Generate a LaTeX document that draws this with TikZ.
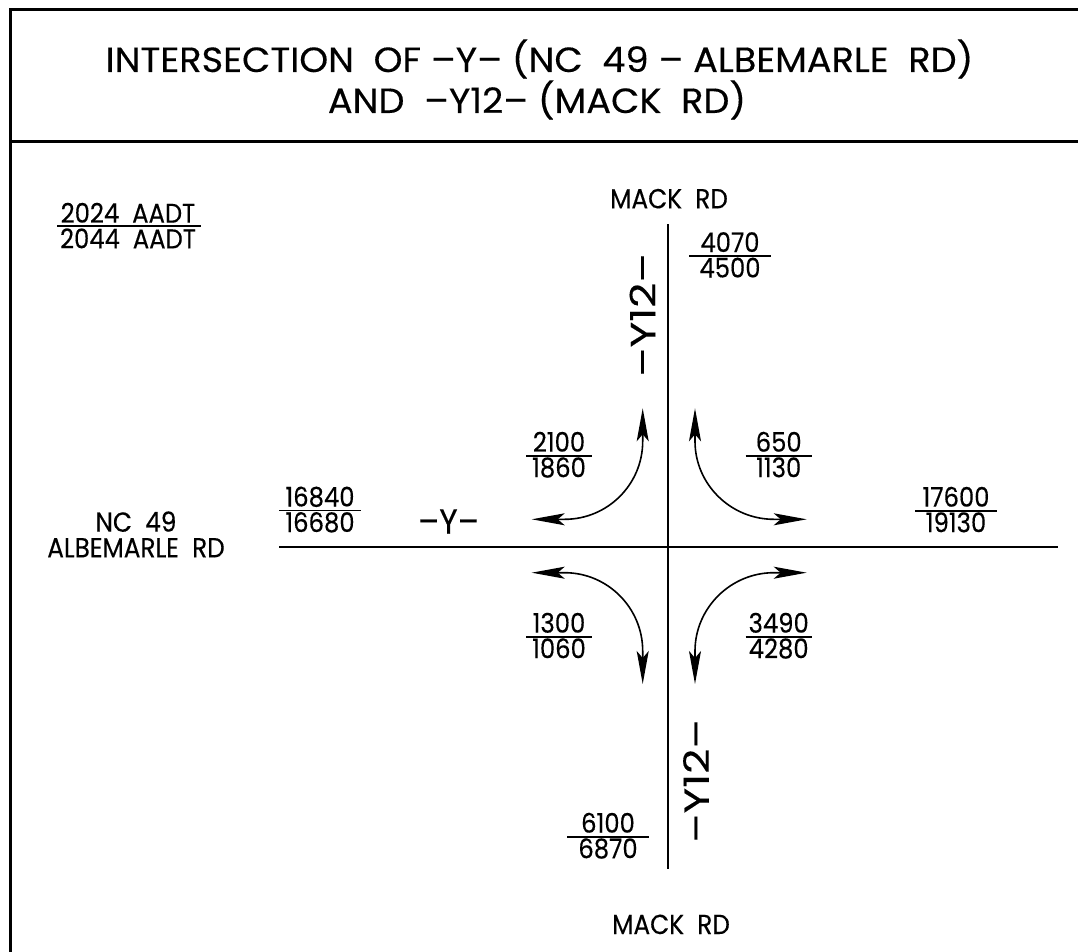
\documentclass[tikz,border=0pt]{standalone}
\usepackage{fontspec}
\setmainfont{Poppins}
\newfontfamily\titlefont[FakeStretch=1.05,FakeBold=0.3]{Poppins}
\newfontfamily\lblfont[FakeStretch=0.9,FakeBold=0.3]{Poppins}
\newfontfamily\widefont[FakeStretch=1.25,FakeBold=0.3]{Poppins}
\usetikzlibrary{arrows.meta}
\tikzset{
  frame/.style={line width=3pt},
  road/.style={line width=2pt},
  bar/.style={line width=1.6pt},
  turn/.style={line width=1.6pt, {Stealth[length=33pt,width=12pt,inset=7pt]}-{Stealth[length=33pt,width=12pt,inset=7pt]}},
  num/.style={inner sep=0pt, font=\lblfont\fontsize{27}{27}\selectfont, anchor=base},
  lbl/.style={inner sep=0pt, font=\lblfont\fontsize{27.5}{27.5}\selectfont, anchor=base},
  ylbl/.style={inner sep=0pt, font=\lblfont\fontsize{35}{35}\selectfont},
  yvlbl/.style={inner sep=0pt, rotate=90, font=\widefont\fontsize{35}{35}\selectfont},
  ttl/.style={inner sep=0pt, font=\titlefont\fontsize{35}{35}\selectfont, anchor=base}
}
% fraction: name, cx, bar y, half width, top, bottom
\newcommand\aadt[6]{%
  \node[num] (#1t) at (#2,#3-4) {#5};
  \node[num] (#1b) at (#2,#3+21.5) {#6};
  \coordinate (#1l) at (#2-#4,#3);
  \coordinate (#1r) at (#2+#4,#3);
  \draw[bar] (#1l) -- (#1r);
}
\begin{document}
\begin{tikzpicture}[x=1pt,y=-1pt]
\useasboundingbox (0,0) rectangle (1078,952);
% frame
\coordinate (ftl) at (10,9.5);
\coordinate (ftr) at (1078,9.5);
\coordinate (fbl) at (10,952);
\coordinate (sl) at (10,141.7);
\coordinate (sr) at (1078,141.7);
\draw[frame] (fbl) -- (ftl) -- (ftr);
\draw[frame] (sl) -- (sr);
% title
\node[ttl] (t1) at (539.5,72) {INTERSECTION\ \ OF –Y– (NC\ \ 49 – ALBEMARLE\ \ RD)};
\node[ttl] (t2) at (537,113) {AND\ \ –Y12– (MACK\ \ RD)};
% roads
\coordinate (vt) at (668.3,224);
\coordinate (vb) at (668.3,869);
\coordinate (hl) at (279.3,546.5);
\coordinate (hr) at (1058.3,546.5);
\draw[road] (vt) -- (vb);
\draw[road] (hl) -- (hr);
% road labels
\node[lbl] (mn) at (669,208.3) {MACK\ \ RD};
\node[lbl] (ms) at (671,934) {MACK\ \ RD};
\node[lbl] (nc) at (136,531.7) {NC\ \ 49};
\node[lbl] (al) at (136,557.3) {ALBEMARLE\ \ RD};
\node[yvlbl] (yn) at (642.5,315) {–Y12–};
\node[yvlbl] (ys) at (696,781) {–Y12–};
\node[ylbl] (yw) at (448.5,521.5) {–Y–};
% legend
\node[num] (lgt) at (128,222.7) {2024\ \ AADT};
\node[num] (lgb) at (128,248.3) {2044\ \ AADT};
\coordinate (lgl) at (57.3,225.7);
\coordinate (lgr) at (201,225.7);
\draw[bar] (lgl) -- (lgr);
% volumes
\aadt{n}{730}{256}{41}{4070}{4500}
\aadt{s}{608}{836.7}{41}{6100}{6870}
\aadt{w}{320}{510.5}{41}{16840}{16680}
\aadt{e}{956}{510.7}{41}{17600}{19130}
\aadt{ul}{559}{455.7}{33}{2100}{1860}
\aadt{ur}{778.7}{455.7}{33}{650}{1130}
\aadt{ll}{559}{636.7}{33}{1300}{1060}
\aadt{lr}{778.7}{636.7}{33}{3490}{4280}
% turning arrows
\coordinate (ulA) at (531.7,519.3);
\coordinate (ulB) at (642.7,408.3);
\coordinate (urA) at (806.7,519.3);
\coordinate (urB) at (695,408.3);
\coordinate (llA) at (531.7,572.7);
\coordinate (llB) at (642.7,684);
\coordinate (lrA) at (806.7,572.7);
\coordinate (lrB) at (695,684);
\draw[turn] (ulA) -- ++(33,0) .. controls ++(43,0) and ++(0,43) .. ([yshift=-33pt]ulB) -- (ulB);
\draw[turn] (urA) -- ++(-33,0) .. controls ++(-43,0) and ++(0,43) .. ([yshift=-33pt]urB) -- (urB);
\draw[turn] (llA) -- ++(33,0) .. controls ++(43,0) and ++(0,-43) .. ([yshift=33pt]llB) -- (llB);
\draw[turn] (lrA) -- ++(-33,0) .. controls ++(-43,0) and ++(0,-43) .. ([yshift=33pt]lrB) -- (lrB);
\end{tikzpicture}
\end{document}
